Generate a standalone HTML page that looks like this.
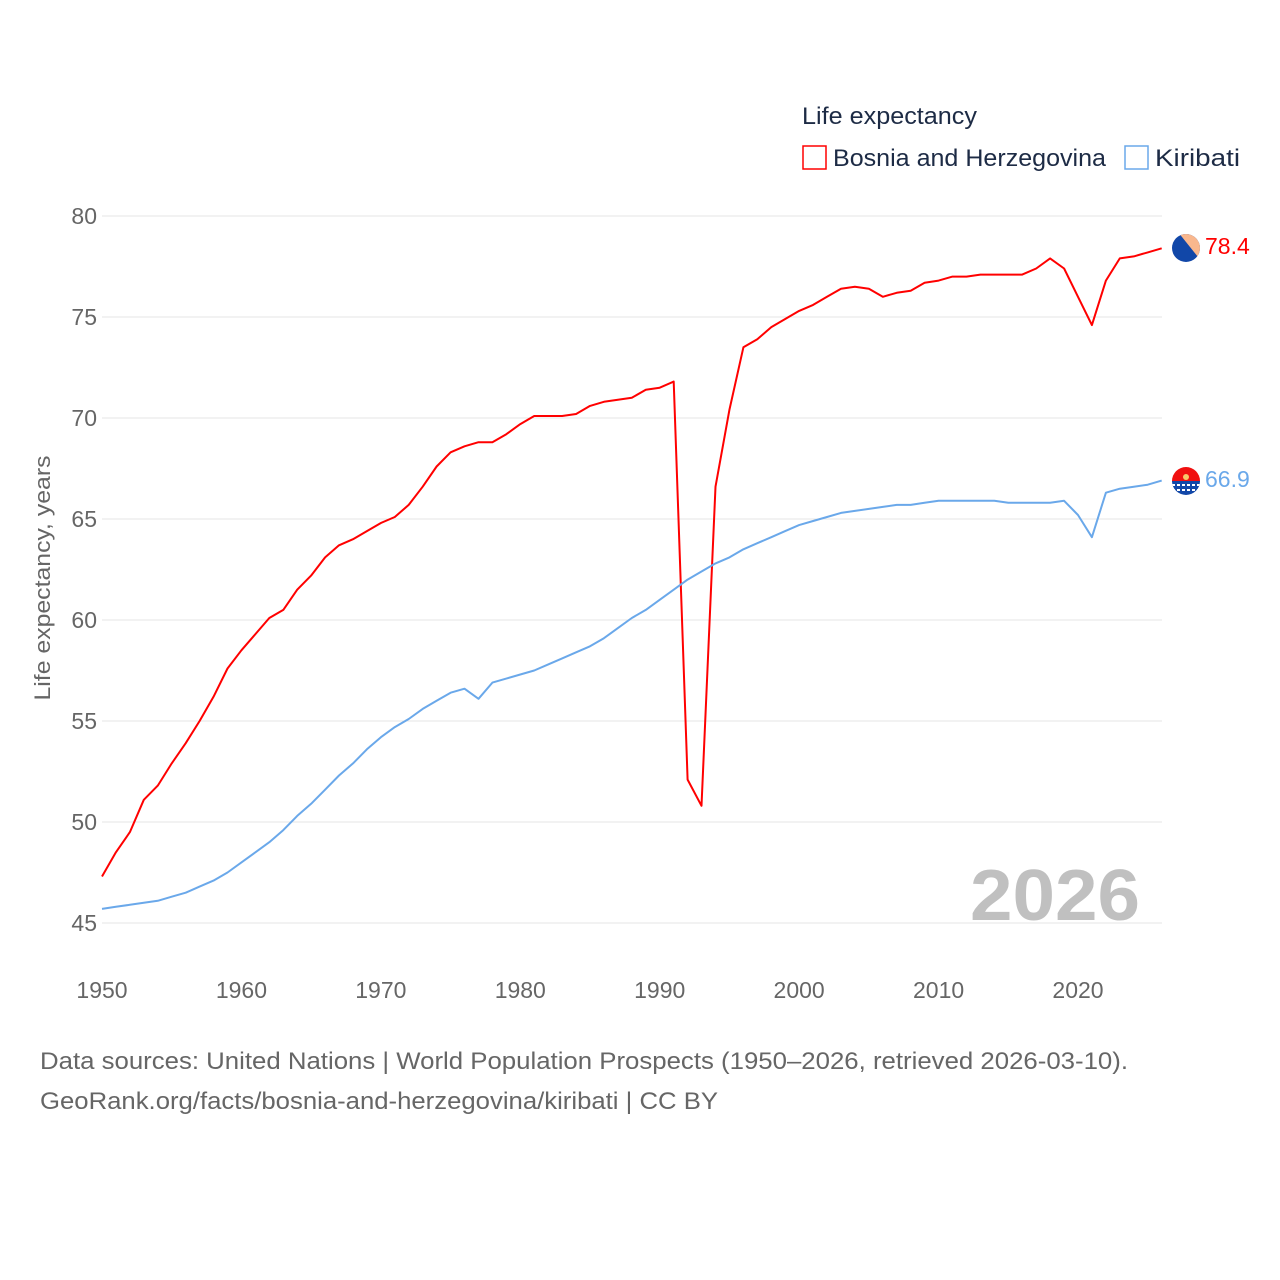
<!DOCTYPE html>
<html><head><meta charset="utf-8"><style>
html,body{margin:0;padding:0;background:#fff;}
svg{display:block;font-family:"Liberation Sans",sans-serif;}
</style></head><body>
<svg id="chart" width="1280" height="1280" viewBox="0 0 1280 1280" xmlns="http://www.w3.org/2000/svg">
<rect width="1280" height="1280" fill="#fff"/>
<g id="grid"></g>
<g id="yticks"></g>
<g id="xticks"></g>
<text x="970" y="920" textLength="170" lengthAdjust="spacingAndGlyphs" font-size="72" font-weight="bold" fill="#c0c0c0">2026</text>
<text transform="translate(50,578) rotate(-90)" text-anchor="middle" font-size="22" textLength="245" lengthAdjust="spacingAndGlyphs" fill="#666">Life expectancy, years</text>
<g id="series"></g>
<g>
<text x="802" y="124" font-size="24" textLength="175" lengthAdjust="spacingAndGlyphs" fill="#1d2b45">Life expectancy</text>
<g><rect x="803" y="146" width="23" height="23" fill="none" stroke="#f00" stroke-width="1.5"/><text x="833" y="166" font-size="24" textLength="273" lengthAdjust="spacingAndGlyphs" fill="#1d2b45">Bosnia and Herzegovina</text></g>
<g><rect x="1125" y="146" width="23" height="23" fill="none" stroke="#6aa8ea" stroke-width="1.5"/><text x="1155" y="166" font-size="24" textLength="85" lengthAdjust="spacingAndGlyphs" fill="#1d2b45">Kiribati</text></g>
</g>
<g>
<clipPath id="cb"><circle cx="1186" cy="248" r="14"/></clipPath>
<g clip-path="url(#cb)"><rect x="1170" y="232" width="32" height="32" fill="#1147a8"/><polygon points="1178,232 1202,232 1202,262" fill="#f9b78d"/></g>
</g>
<g>
<clipPath id="ck"><circle cx="1186" cy="481" r="14"/></clipPath>
<g clip-path="url(#ck)"><rect x="1170" y="466" width="32" height="16" fill="#f01010"/><rect x="1170" y="481" width="32" height="16" fill="#1147a8"/><path d="M1172 485 h28 M1172 490 h28" stroke="#fff" stroke-width="2" stroke-dasharray="3 2"/><circle cx="1186" cy="477" r="3" fill="#f7c86a"/></g>
</g>
<text id="lab-b" x="1205" y="254" font-size="23" fill="#f00">78.4</text>
<text id="lab-k" x="1205" y="487" font-size="23" fill="#6aa8ea">66.9</text>
<text x="40" y="1069" font-size="24" textLength="1088" lengthAdjust="spacingAndGlyphs" fill="#666">Data sources: United Nations | World Population Prospects (1950–2026, retrieved 2026-03-10).</text>
<text x="40" y="1109" font-size="24" textLength="678" lengthAdjust="spacingAndGlyphs" fill="#666">GeoRank.org/facts/bosnia-and-herzegovina/kiribati | CC BY</text>
</svg>
<script>
const years = [];
for (let y = 1950; y <= 2026; y++) years.push(y);
const bosnia = [47.3,48.5,49.5,51.1,51.8,52.9,53.9,55.0,56.2,57.6,58.5,59.3,60.1,60.5,61.5,62.2,63.1,63.7,64.0,64.4,64.8,65.1,65.7,66.6,67.6,68.3,68.6,68.8,68.8,69.2,69.7,70.1,70.1,70.1,70.2,70.6,70.8,70.9,71.0,71.4,71.5,71.8,52.1,50.8,66.6,70.4,73.5,73.9,74.5,74.9,75.3,75.6,76.0,76.4,76.5,76.4,76.0,76.2,76.3,76.7,76.8,77.0,77.0,77.1,77.1,77.1,77.1,77.4,77.9,77.4,76.0,74.6,76.8,77.9,78.0,78.2,78.4];
const kiribati = [45.7,45.8,45.9,46.0,46.1,46.3,46.5,46.8,47.1,47.5,48.0,48.5,49.0,49.6,50.3,50.9,51.6,52.3,52.9,53.6,54.2,54.7,55.1,55.6,56.0,56.4,56.6,56.1,56.9,57.1,57.3,57.5,57.8,58.1,58.4,58.7,59.1,59.6,60.1,60.5,61.0,61.5,62.0,62.4,62.8,63.1,63.5,63.8,64.1,64.4,64.7,64.9,65.1,65.3,65.4,65.5,65.6,65.7,65.7,65.8,65.9,65.9,65.9,65.9,65.9,65.8,65.8,65.8,65.8,65.9,65.2,64.1,66.3,66.5,66.6,66.7,66.9];
const yTicks = [45,50,55,60,65,70,75,80];
const xTicks = [1950,1960,1970,1980,1990,2000,2010,2020];

const NS = "http://www.w3.org/2000/svg";
const X = yr => 102 + (yr - 1950) * (976 / 70);
const Y = v => 216 + (80 - v) * (707 / 35);
function mk(tag, attrs, parent) { const e = document.createElementNS(NS, tag); for (const k in attrs) e.setAttribute(k, attrs[k]); parent.appendChild(e); return e; }

const grid = document.getElementById('grid'), yt = document.getElementById('yticks'), xt = document.getElementById('xticks');
yTicks.forEach(v => {
  const l = mk('line', {x1: 102, x2: 1162, y1: Y(v), y2: Y(v), stroke: '#e6e6e6', 'stroke-width': 1}, grid);
  
  
  const t = mk('text', {x: 97, y: Y(v) + 8, 'text-anchor': 'end', 'font-size': 23, fill: '#666'}, yt);
  t.textContent = v;
  
  
});
xTicks.forEach(yr => {
  const t = mk('text', {x: X(yr), y: 998, 'text-anchor': 'middle', 'font-size': 23, fill: '#666'}, xt);
  t.textContent = yr;
  
  
});
const sg = document.getElementById('series');
function line(vals, color, name) {
  const d = vals.map((v, i) => (i ? 'L' : 'M') + X(years[i]).toFixed(1) + ' ' + Y(v).toFixed(1)).join(' ');
  const p = mk('path', {d: d, fill: 'none', stroke: color, 'stroke-width': 2, 'stroke-linejoin': 'round'}, sg);
  
  
}
line(bosnia, '#f00', 'line-bosnia');
line(kiribati, '#6aa8ea', 'line-kiribati');
document.getElementById('lab-b').textContent = bosnia[bosnia.length - 1].toFixed(1);
document.getElementById('lab-k').textContent = kiribati[kiribati.length - 1].toFixed(1);
</script>
</body></html>
